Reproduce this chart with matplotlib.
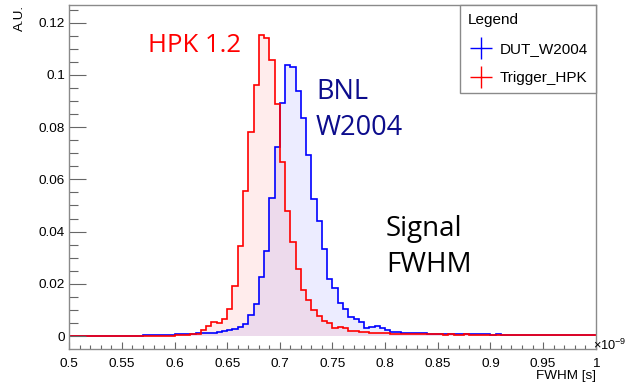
import numpy as np
import matplotlib
matplotlib.use("Agg")
import matplotlib.pyplot as plt
from matplotlib.lines import Line2D
from matplotlib.ticker import MultipleLocator, FixedLocator, FixedFormatter

# ---------------- data ----------------
bin_lo, bin_hi, n_bins = 0.5, 1.0, 100

trigger_hpk = [
    0.0001, 0.0001, 0.0001, 0.0001, 0.0001, 0.0001, 0.0001, 0.0001, 0.0001, 0.0001,
    0.0001, 0.0001, 0.0001, 0.0001, 0.0001, 0.0001, 0.0001, 0.0001, 0.0001, 0.0001,
    0.0002, 0.0005, 0.0005, 0.0007, 0.0008, 0.0023, 0.0040, 0.0055, 0.0049, 0.0064,
    0.0105, 0.0192, 0.0346, 0.0557, 0.0780, 0.0962, 0.1153, 0.1140, 0.1057, 0.0888,
    0.0665, 0.0480, 0.0362, 0.0256, 0.0178, 0.0137, 0.0098, 0.0076, 0.0057, 0.0048,
    0.0029, 0.0036, 0.0032, 0.0021, 0.0019, 0.0016, 0.0014, 0.0013, 0.0012, 0.0011,
    0.0010, 0.0009, 0.0009, 0.0008, 0.0008, 0.0007, 0.0008, 0.0007, 0.0007, 0.0006,
    0.0006, 0.0005, 0.0006, 0.0005, 0.0005, 0.0006, 0.0005, 0.0005, 0.0004, 0.0005,
    0.0005, 0.0004, 0.0005, 0.0004, 0.0004, 0.0005, 0.0004, 0.0004, 0.0004, 0.0005,
    0.0004, 0.0004, 0.0003, 0.0004, 0.0004, 0.0003, 0.0004, 0.0004, 0.0003, 0.0004,
]

dut_w2004 = [
    0.0000, 0.0000, 0.0000, 0.0000, 0.0000, 0.0000, 0.0000, 0.0000, 0.0000, 0.0000,
    0.0000, 0.0000, 0.0000, 0.0000, 0.0003, 0.0002, 0.0003, 0.0004, 0.0005, 0.0004,
    0.0006, 0.0008, 0.0008, 0.0009, 0.0010, 0.0011, 0.0012, 0.0013, 0.0014, 0.0018,
    0.0022, 0.0025, 0.0036, 0.0045, 0.0082, 0.0123, 0.0227, 0.0327, 0.0527, 0.0725,
    0.0891, 0.1039, 0.1031, 0.0938, 0.0834, 0.0694, 0.0523, 0.0442, 0.0333, 0.0220,
    0.0184, 0.0127, 0.0105, 0.0074, 0.0065, 0.0052, 0.0029, 0.0033, 0.0038, 0.0029,
    0.0023, 0.0017, 0.0015, 0.0013, 0.0012, 0.0012, 0.0010, 0.0011, 0.0009, 0.0009,
    0.0008, 0.0007, 0.0008, 0.0007, 0.0007, 0.0006, 0.0007, 0.0006, 0.0006, 0.0006,
    0.0005, 0.0006, 0.0005, 0.0005, 0.0005, 0.0004, 0.0005, 0.0004, 0.0005, 0.0004,
    0.0004, 0.0004, 0.0004, 0.0003, 0.0004, 0.0004, 0.0003, 0.0004, 0.0003, 0.0003,
]

x_ticks = [0.5, 0.55, 0.6, 0.65, 0.7, 0.75, 0.8, 0.85, 0.9, 0.95, 1.0]
x_tick_labels = ["0.5", "0.55", "0.6", "0.65", "0.7", "0.75", "0.8", "0.85", "0.9", "0.95", "1"]
y_ticks = [0, 0.02, 0.04, 0.06, 0.08, 0.10, 0.12]
y_tick_labels = ["0", "0.02", "0.04", "0.06", "0.08", "0.1", "0.12"]

series_names = ["DUT_W2004", "Trigger_HPK"]

# ---------------- style ----------------
plt.rcParams["font.family"] = ["Liberation Sans", "DejaVu Sans"]
plt.rcParams["mathtext.fontset"] = "custom"
plt.rcParams["mathtext.rm"] = "Liberation Sans"
plt.rcParams["mathtext.it"] = "Liberation Sans"

W, H = 628, 385
fig = plt.figure(figsize=(W / 100, H / 100), dpi=100)
ax = fig.add_axes([69.3 / W, 1 - 348.7 / H, 526.4 / W, 343.4 / H])

edges = np.linspace(bin_lo, bin_hi, n_bins + 1)
blue = "#0000ff"
red = "#ff0000"

ax.stairs(dut_w2004, edges, fill=True, color=blue, alpha=0.075, lw=0)
ax.stairs(trigger_hpk, edges, fill=True, color=red, alpha=0.075, lw=0)
ax.stairs(dut_w2004, edges, color=blue, lw=1.2)
ax.stairs(trigger_hpk, edges, color=red, lw=1.2)

ax.set_xlim(bin_lo, bin_hi)
ax.set_ylim(-0.00486, 0.12667)

ax.xaxis.set_major_locator(FixedLocator(x_ticks))
ax.xaxis.set_major_formatter(FixedFormatter(x_tick_labels))
ax.xaxis.set_minor_locator(MultipleLocator(0.01))
ax.yaxis.set_major_locator(FixedLocator(y_ticks))
ax.yaxis.set_major_formatter(FixedFormatter(y_tick_labels))
ax.yaxis.set_minor_locator(MultipleLocator(0.005))

axis_col = "#8a8a8a"
for s in ax.spines.values():
    s.set_color(axis_col)
    s.set_linewidth(1.0)

ax.tick_params(axis="both", which="both", direction="in", color="#666666",
               labelsize=9.7, labelcolor="black", width=0.8,
               top=False, right=False)
ax.tick_params(axis="y", which="major", length=12.2, pad=3)
ax.tick_params(axis="y", which="minor", length=6.3)
ax.tick_params(axis="x", which="major", length=5.2, pad=6.5)
ax.tick_params(axis="x", which="minor", length=2.6)

# legend
handles = [
    Line2D([], [], color=blue, marker="+", markersize=16, markeredgewidth=1.0, linestyle="None"),
    Line2D([], [], color=red, marker="+", markersize=16, markeredgewidth=1.0, linestyle="None"),
]
leg = ax.legend(handles, series_names, title="Legend", loc="upper right",
                bbox_to_anchor=(1.0, 1.0), borderaxespad=0.0, fancybox=False,
                framealpha=1.0, edgecolor=axis_col, fontsize=11,
                title_fontsize=11, alignment="left", handlelength=1.7,
                handletextpad=0.4, labelspacing=1.0, borderpad=0.5)
leg.get_frame().set_linewidth(1.0)

# annotations
fig.text(148 / W, 1 - 46 / H, "HPK 1.2", color=red, fontsize=18.5,
         family="Open Sans", ha="left", va="center")
fig.text(316 / W, 1 - 110 / H, "BNL\nW2004", color="#0c0c8c", fontsize=19.5,
         family="Open Sans", ha="left", va="center", linespacing=1.42)
fig.text(386 / W, 1 - 247 / H, "Signal\nFWHM", color="black", fontsize=20,
         family="Open Sans", ha="left", va="center", linespacing=1.42)

# axis titles
fig.text(20 / W, 1 - 5 / H, "A.U.", rotation=90, ha="center", va="top", fontsize=9.7)
fig.text(596 / W, 1 - 375.5 / H, "FWHM [s]", ha="right", va="center", fontsize=9.7)
fig.text(627 / W, 1 - 345 / H, r"$\times10^{-9}$", ha="right", va="center", fontsize=9.2)

fig.savefig("out.png", dpi=100)
